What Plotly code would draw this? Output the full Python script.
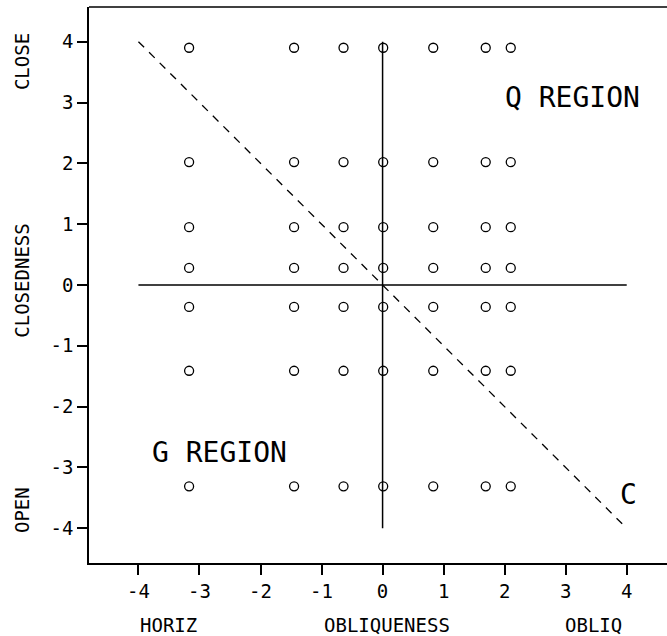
import plotly.graph_objects as go

# Data
obliqueness = [-3.17, -1.45, -0.64, 0.01, 0.83, 1.69, 2.10]
closedness = [3.90, 2.02, 0.95, 0.28, -0.36, -1.41, -3.31]
tick_vals = [-4, -3, -2, -1, 0, 1, 2, 3, 4]
tick_text = ["-4", "-3", "-2", "-1", "0", "1", "2", "3", "4"]
region_labels = ["Q REGION", "G REGION", "C"]
region_x = [3.11, -2.68, 4.03]
region_y = [3.08, -2.75, -3.44]
x_axis_labels = ["HORIZ", "OBLIQUENESS", "OBLIQ"]
x_axis_label_pos = [-3.5, 0.07, 3.46]
y_axis_labels = ["CLOSE", "CLOSEDNESS", "OPEN"]
y_axis_label_pos = [3.68, 0.07, -3.70]
cross_x = [-4, 4]
cross_y = [-4, 4]
diag_x = [-4, 4]
diag_y = [4, -4]

FONT = "DejaVu Sans Mono"

px, py = [], []
for yv in closedness:
    for xv in obliqueness:
        px.append(xv)
        py.append(yv)

fig = go.Figure()

# horizontal and vertical reference lines
fig.add_trace(go.Scatter(x=cross_x, y=[0, 0], mode="lines",
                         line=dict(color="black", width=1.5), hoverinfo="skip"))
fig.add_trace(go.Scatter(x=[0, 0], y=cross_y, mode="lines",
                         line=dict(color="black", width=1.5), hoverinfo="skip"))
# dashed diagonal
fig.add_trace(go.Scatter(x=diag_x, y=diag_y, mode="lines",
                         line=dict(color="black", width=1.3, dash="8px,7px"),
                         hoverinfo="skip"))
# points
fig.add_trace(go.Scatter(x=px, y=py, mode="markers",
                         marker=dict(symbol="circle-open", size=9, color="black",
                                     line=dict(width=1.3, color="black"))))

annotations = []
for t, xv, yv in zip(region_labels, region_x, region_y):
    annotations.append(dict(text=t, x=xv, y=yv, xref="x", yref="y", showarrow=False,
                            font=dict(family=FONT, size=28, color="black"),
                            xanchor="center", yanchor="middle"))
for t, xv in zip(x_axis_labels, x_axis_label_pos):
    annotations.append(dict(text=t, x=xv, y=-0.111, xref="x", yref="paper",
                            showarrow=False, font=dict(family=FONT, size=19, color="black"),
                            xanchor="center", yanchor="middle"))
for t, yv in zip(y_axis_labels, y_axis_label_pos):
    annotations.append(dict(text=t, x=-0.116, y=yv, xref="paper", yref="y",
                            showarrow=False, textangle=-90,
                            font=dict(family=FONT, size=19, color="black"),
                            xanchor="center", yanchor="middle"))

fig.update_layout(
    width=667, height=636,
    margin=dict(l=89, r=0, t=7, b=73),
    paper_bgcolor="white", plot_bgcolor="white",
    showlegend=False,
    annotations=annotations,
    shapes=[dict(type="line", xref="paper", yref="paper", x0=0, x1=1, y0=1, y1=1,
                 line=dict(color="black", width=1.5))],
    xaxis=dict(range=[-4.81, 4.66], tickvals=tick_vals, ticktext=tick_text,
               showgrid=False, zeroline=False, showline=True, linecolor="black",
               linewidth=1.5, ticks="outside", ticklen=10, tickwidth=1.5,
               tickcolor="black", tickfont=dict(family=FONT, size=19, color="black")),
    yaxis=dict(range=[-4.57, 4.57], tickvals=tick_vals, ticktext=tick_text,
               showgrid=False, zeroline=False, showline=True, linecolor="black",
               linewidth=1.5, ticks="outside", ticklen=10, tickwidth=1.5,
               tickcolor="black", tickfont=dict(family=FONT, size=19, color="black")),
)

fig.write_html("out.html", config={"displayModeBar": False},
               post_script="document.body.style.margin='0';document.body.style.overflow='hidden';")
